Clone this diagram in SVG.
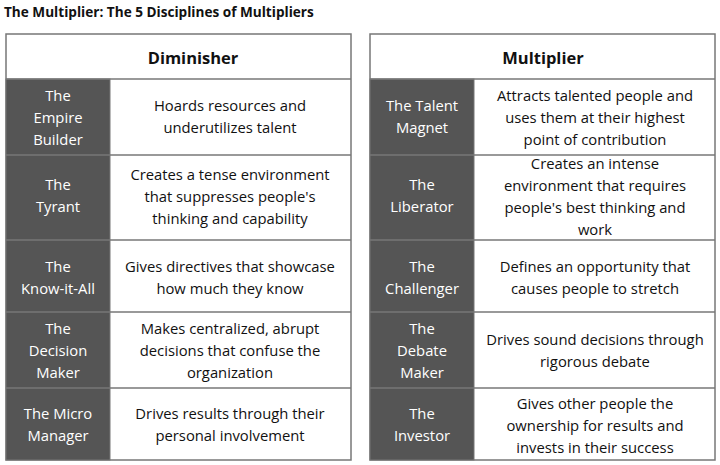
<svg xmlns="http://www.w3.org/2000/svg" width="720" height="465" viewBox="0 0 720 465">
<style>
text{font-family:"Open Sans","Liberation Sans",sans-serif;font-size:14.8px;text-anchor:middle;fill:#111}
.t{font-weight:bold;text-anchor:start;font-size:13.6px}
.h{font-weight:bold;font-size:16.5px}
.n{fill:#fff}
.box{fill:#fff;stroke:#777;stroke-width:1.5}
.dk{fill:#555;stroke:#777;stroke-width:1}
.ln{stroke:#777;stroke-width:1.5}
</style>
<rect width="720" height="465" fill="#fff"/>
<text class="t" x="4" y="17">The Multiplier: The 5 Disciplines of Multipliers</text>
<g id="diminisher">
<rect class="box" x="6" y="34" width="345" height="426"/>
<rect class="dk" x="6" y="79" width="104" height="381"/>
<line class="ln" x1="6" y1="79" x2="351" y2="79"/>
<line class="ln" x1="6" y1="155" x2="351" y2="155"/>
<line class="ln" x1="6" y1="240" x2="351" y2="240"/>
<line class="ln" x1="6" y1="312" x2="351" y2="312"/>
<line class="ln" x1="6" y1="388" x2="351" y2="388"/>
<text class="h" x="193" y="64">Diminisher</text>
<text class="n" x="58" y="101">The</text><text class="n" x="58" y="123">Empire</text><text class="n" x="58" y="145">Builder</text>
<text x="230" y="111">Hoards resources and</text><text x="230" y="133">underutilizes talent</text>
<text class="n" x="58" y="190">The</text><text class="n" x="58" y="212">Tyrant</text>
<text x="230" y="180">Creates a tense environment</text><text x="230" y="202">that suppresses people's</text><text x="230" y="224">thinking and capability</text>
<text class="n" x="58" y="272">The</text><text class="n" x="58" y="294">Know-it-All</text>
<text x="230" y="272">Gives directives that showcase</text><text x="230" y="294">how much they know</text>
<text class="n" x="58" y="334">The</text><text class="n" x="58" y="356">Decision</text><text class="n" x="58" y="378">Maker</text>
<text x="230" y="334">Makes centralized, abrupt</text><text x="230" y="356">decisions that confuse the</text><text x="230" y="378">organization</text>
<text class="n" x="58" y="419">The Micro</text><text class="n" x="58" y="441">Manager</text>
<text x="230" y="419">Drives results through their</text><text x="230" y="441">personal involvement</text>
</g>
<g id="multiplier">
<rect class="box" x="370" y="34" width="345" height="426"/>
<rect class="dk" x="370" y="79" width="104" height="381"/>
<line class="ln" x1="370" y1="79" x2="715" y2="79"/>
<line class="ln" x1="370" y1="155" x2="715" y2="155"/>
<line class="ln" x1="370" y1="240" x2="715" y2="240"/>
<line class="ln" x1="370" y1="312" x2="715" y2="312"/>
<line class="ln" x1="370" y1="388" x2="715" y2="388"/>
<text class="h" x="543" y="64">Multiplier</text>
<text class="n" x="422" y="111">The Talent</text><text class="n" x="422" y="133">Magnet</text>
<text x="595" y="101">Attracts talented people and</text><text x="595" y="123">uses them at their highest</text><text x="595" y="145">point of contribution</text>
<text class="n" x="422" y="190">The</text><text class="n" x="422" y="212">Liberator</text>
<text x="595" y="169">Creates an intense</text><text x="595" y="191">environment that requires</text><text x="595" y="213">people's best thinking and</text><text x="595" y="235">work</text>
<text class="n" x="422" y="272">The</text><text class="n" x="422" y="294">Challenger</text>
<text x="595" y="272">Defines an opportunity that</text><text x="595" y="294">causes people to stretch</text>
<text class="n" x="422" y="334">The</text><text class="n" x="422" y="356">Debate</text><text class="n" x="422" y="378">Maker</text>
<text x="595" y="345">Drives sound decisions through</text><text x="595" y="367">rigorous debate</text>
<text class="n" x="422" y="419">The</text><text class="n" x="422" y="441">Investor</text>
<text x="595" y="409">Gives other people the</text><text x="595" y="431">ownership for results and</text><text x="595" y="453">invests in their success</text>
</g>
</svg>
